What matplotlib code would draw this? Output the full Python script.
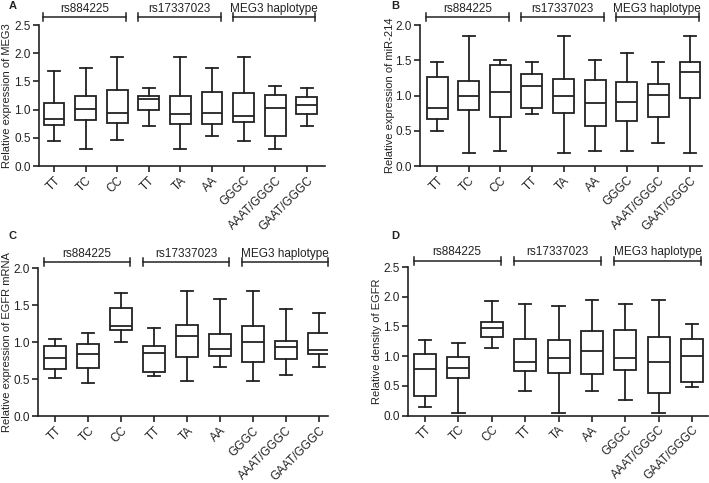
import matplotlib
matplotlib.use("Agg")
import matplotlib.pyplot as plt

plt.rcParams['font.family'] = ['Liberation Sans', 'DejaVu Sans']

categories = ["TT", "TC", "CC", "TT", "TA", "AA", "GGGC", "AAAT/GGGC", "GAAT/GGGC"]
groups = ["rs884225", "rs17337023", "MEG3 haplotype"]

# Panel A: Relative expression of MEG3
a_whislo = [0.44, 0.30, 0.46, 0.71, 0.30, 0.54, 0.45, 0.30, 0.71]
a_q1     = [0.72, 0.81, 0.76, 0.99, 0.75, 0.74, 0.78, 0.54, 0.92]
a_med    = [0.84, 1.01, 0.94, 1.18, 0.92, 0.94, 0.89, 1.02, 1.08]
a_q3     = [1.12, 1.25, 1.35, 1.25, 1.24, 1.31, 1.30, 1.26, 1.22]
a_whishi = [1.68, 1.73, 1.94, 1.39, 1.94, 1.73, 1.94, 1.42, 1.39]

# Panel B: Relative expression of miR-214
b_whislo = [0.50, 0.18, 0.21, 0.74, 0.18, 0.21, 0.21, 0.32, 0.18]
b_q1     = [0.67, 0.79, 0.70, 0.82, 0.75, 0.57, 0.64, 0.70, 0.97]
b_med    = [0.82, 0.99, 1.05, 1.14, 0.99, 0.89, 0.91, 1.01, 1.34]
b_q3     = [1.26, 1.21, 1.43, 1.30, 1.24, 1.22, 1.19, 1.16, 1.47]
b_whishi = [1.47, 1.85, 1.50, 1.47, 1.85, 1.51, 1.60, 1.47, 1.85]

# Panel C: Relative expression of EGFR mRNA
c_whislo = [0.52, 0.45, 1.00, 0.54, 0.48, 0.66, 0.48, 0.56, 0.66]
c_q1     = [0.64, 0.65, 1.16, 0.60, 0.80, 0.82, 0.73, 0.77, 0.84]
c_med    = [0.79, 0.84, 1.22, 0.85, 1.08, 0.91, 1.01, 0.94, 0.89]
c_q3     = [0.95, 0.98, 1.46, 0.95, 1.23, 1.11, 1.22, 1.02, 1.13]
c_whishi = [1.04, 1.13, 1.67, 1.20, 1.69, 1.59, 1.69, 1.45, 1.40]

# Panel D: Relative density of EGFR
d_whislo = [0.15, 0.05, 1.14, 0.41, 0.05, 0.42, 0.27, 0.05, 0.48]
d_q1     = [0.33, 0.63, 1.33, 0.76, 0.72, 0.70, 0.77, 0.38, 0.57]
d_med    = [0.79, 0.80, 1.47, 0.91, 0.97, 1.08, 0.97, 0.90, 1.00]
d_q3     = [1.04, 0.99, 1.57, 1.29, 1.28, 1.43, 1.44, 1.33, 1.29]
d_whishi = [1.27, 1.22, 1.93, 1.87, 1.85, 1.94, 1.87, 1.94, 1.55]

panels = [
    dict(label="A", ylabel="Relative expression of MEG3", ymax=2.5,
         data=(a_whislo, a_q1, a_med, a_q3, a_whishi),
         rect=[0.0550, 0.6563, 0.4034, 0.2919], xlim=(0.525, 9.575),
         br_y=1.057, tx_y=1.113, lab_xy=(0.012, 0.998), ylab_x=-0.094),
    dict(label="B", ylabel="Relative expression of miR-214", ymax=2.0,
         data=(b_whislo, b_q1, b_med, b_q3, b_whishi),
         rect=[0.5924, 0.6563, 0.3977, 0.2919], xlim=(0.46, 9.38),
         br_y=1.057, tx_y=1.113, lab_xy=(0.552, 0.998), ylab_x=-0.089),
    dict(label="C", ylabel="Relative expression of EGFR mRNA", ymax=2.0,
         data=(c_whislo, c_q1, c_med, c_q3, c_whishi),
         rect=[0.0536, 0.1381, 0.4090, 0.3064], xlim=(0.48, 9.27),
         br_y=1.043, tx_y=1.10, lab_xy=(0.012, 0.522), ylab_x=-0.088),
    dict(label="D", ylabel="Relative density of EGFR", ymax=2.5,
         data=(d_whislo, d_q1, d_med, d_q3, d_whishi),
         rect=[0.5755, 0.1393, 0.4231, 0.3079], xlim=(0.49, 9.48),
         br_y=1.04, tx_y=1.10, lab_xy=(0.552, 0.522), ylab_x=-0.087),
]

group_spans = [(1, 3), (4, 6), (7, 9)]
col = "#222222"

fig = plt.figure(figsize=(7.09, 4.83), dpi=100)

for p in panels:
    ax = fig.add_axes(p["rect"])
    wl, q1, md, q3, wh = p["data"]
    stats = []
    for i in range(len(categories)):
        stats.append(dict(whislo=wl[i], q1=q1[i], med=md[i], q3=q3[i],
                          whishi=wh[i], fliers=[]))
    pos = list(range(1, len(categories) + 1))
    ax.bxp(stats, positions=pos, widths=0.66, showfliers=False,
           patch_artist=True, capwidths=0.38,
           boxprops=dict(facecolor="white", edgecolor=col, linewidth=1.3),
           medianprops=dict(color=col, linewidth=1.3),
           whiskerprops=dict(color=col, linewidth=1.3),
           capprops=dict(color=col, linewidth=1.3))
    ax.set_xlim(*p["xlim"])
    ax.set_ylim(0, p["ymax"])
    ticks = [i * 0.5 for i in range(int(round(p["ymax"] / 0.5)) + 1)]
    ax.set_yticks(ticks)
    ax.set_yticklabels([f"{t:.1f}" for t in ticks])
    ax.set_xticks(pos)
    ax.set_xticklabels(categories, rotation=45, ha="right",
                       rotation_mode="anchor")
    ax.tick_params(axis="both", labelsize=8.5, colors=col, width=1.2,
                   length=4, direction="out", pad=2)
    for s in ["top", "right"]:
        ax.spines[s].set_visible(False)
    for s in ["left", "bottom"]:
        ax.spines[s].set_linewidth(1.2)
        ax.spines[s].set_color(col)
    ax.set_ylabel(p["ylabel"], fontsize=8, color=col)
    ax.yaxis.set_label_coords(p["ylab_x"], 0.5)

    tr = ax.get_xaxis_transform()
    for (g0, g1), name in zip(group_spans, groups):
        x0, x1 = g0 - 0.34, g1 + 0.27
        y = p["br_y"]
        ax.plot([x0, x1], [y, y], color=col, lw=1.1, transform=tr,
                clip_on=False)
        ax.plot([x0, x0], [y - 0.025, y + 0.025], color=col, lw=1.1,
                transform=tr, clip_on=False)
        ax.plot([x1, x1], [y - 0.025, y + 0.025], color=col, lw=1.1,
                transform=tr, clip_on=False)
        ax.text((x0 + x1) / 2, p["tx_y"], name, transform=tr, ha="center",
                va="center", fontsize=8.5, color=col)

    fig.text(p["lab_xy"][0], p["lab_xy"][1], p["label"], fontsize=8,
             fontweight="bold", va="top", ha="left", color=col)

fig.savefig("out.png", dpi=100)
